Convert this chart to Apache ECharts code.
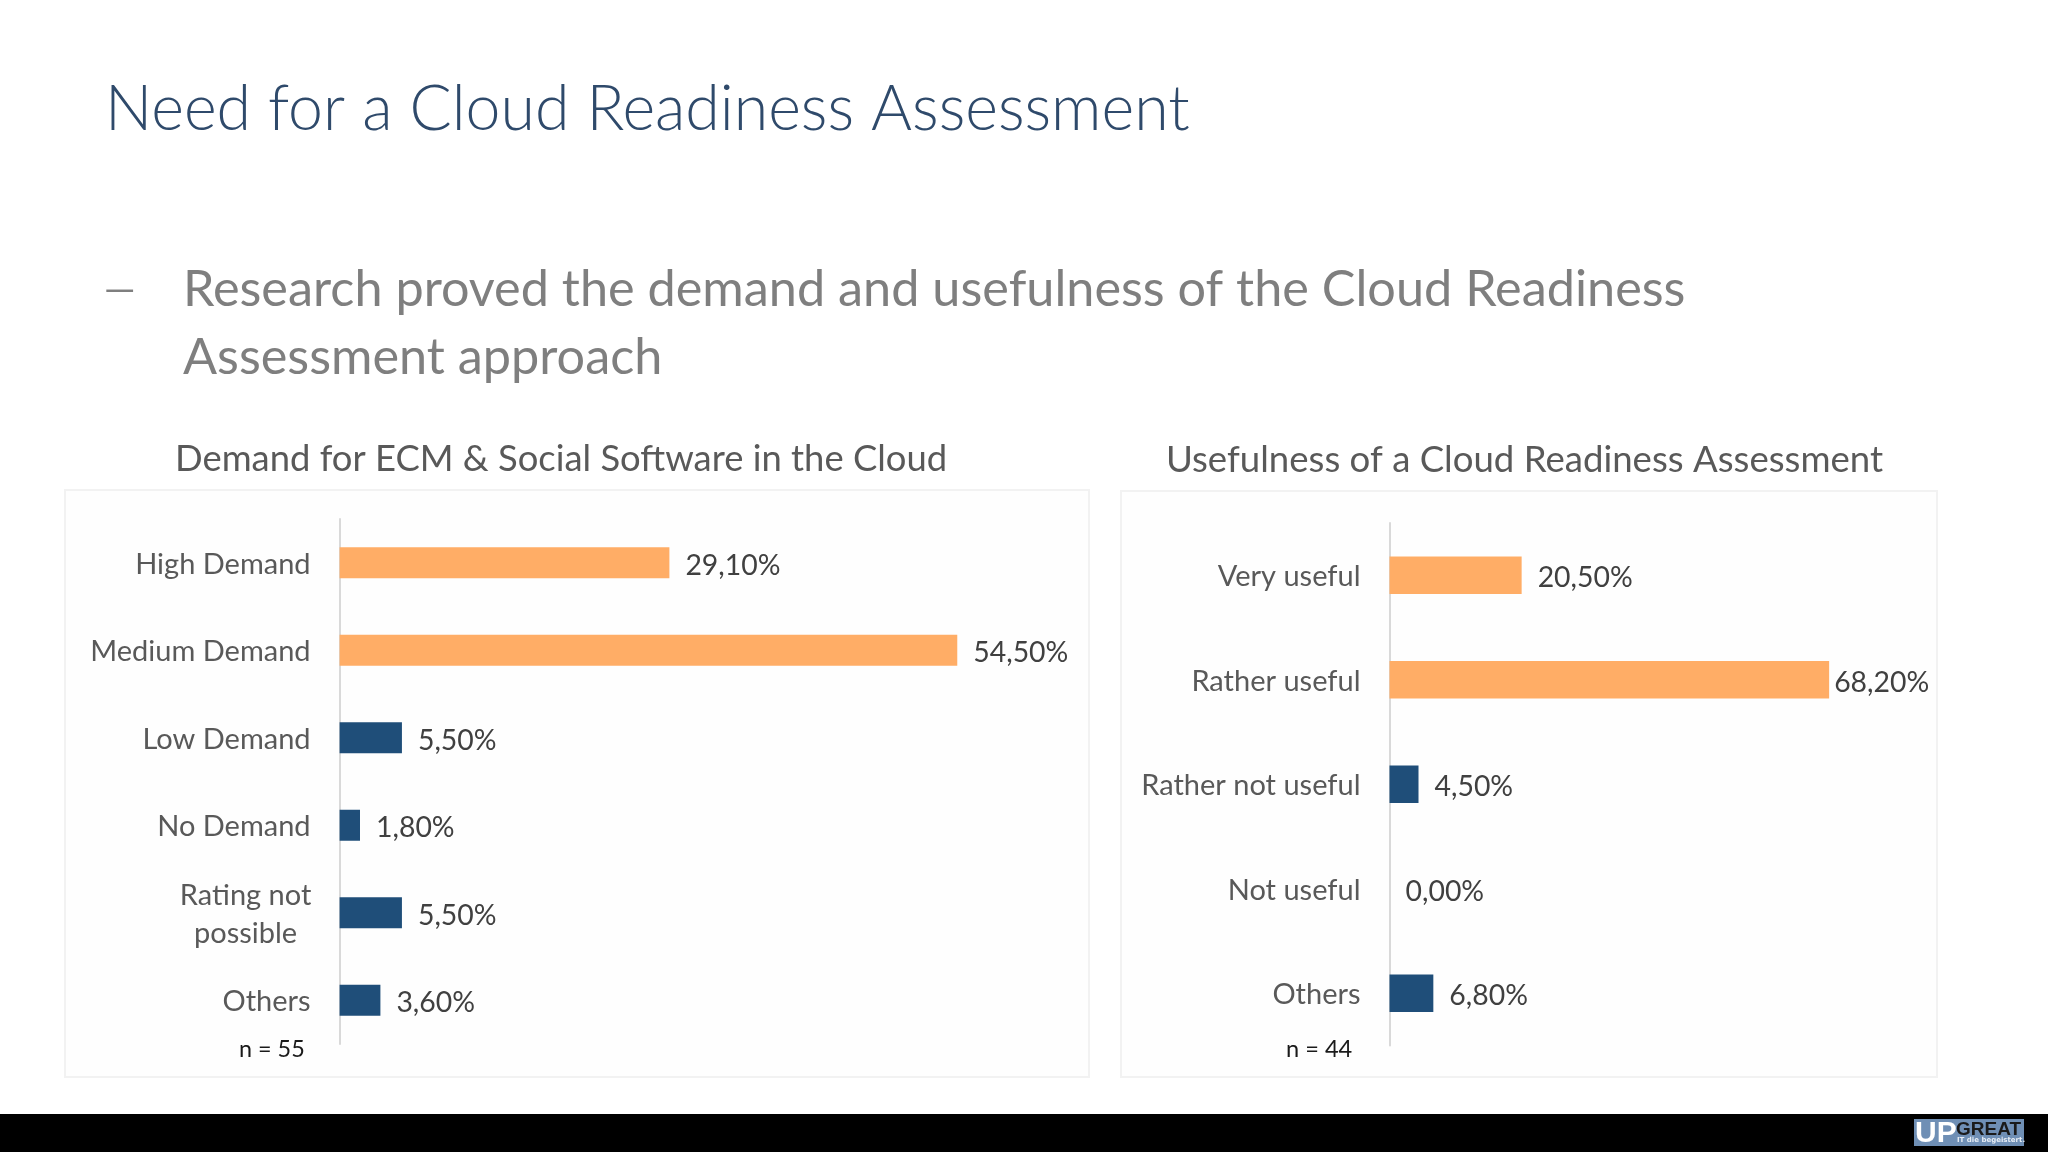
<!DOCTYPE html>
<html>
<head>
<meta charset="utf-8">
<title>Need for a Cloud Readiness Assessment</title>
<script src="https://cdn.jsdelivr.net/npm/echarts@6/dist/echarts.min.js"></script>
<style>
html, body { margin: 0; padding: 0; background: #fff; }
#main { width: 2048px; height: 1152px; }
</style>
</head>
<body>
<div id="main"></div>
<script>
var demandCategories = ['High Demand', 'Medium Demand', 'Low Demand', 'No Demand', 'Rating not\npossible', 'Others'];
var demandValues = [29.1, 54.5, 5.5, 1.8, 5.5, 3.6];
var usefulCategories = ['Very useful', 'Rather useful', 'Rather not useful', 'Not useful', 'Others'];
var usefulValues = [20.5, 68.2, 4.5, 0, 6.8];

var FONT = 'Lato, "Noto Sans", sans-serif';
var ORANGE = '#ffad66';
var BLUE = '#1f4e79';

function pct(v) {
    return v.toFixed(2).replace('.', ',') + '%';
}

function textTitle(text, left, top, size, color, weight) {
    return {
        text: text,
        left: left,
        top: top,
        padding: 0,
        textStyle: { fontFamily: FONT, fontSize: size, color: color, fontWeight: weight || 400, lineHeight: size * 1.3 }
    };
}

function barSeries(values, gridIndex, barWidth, tightIndex) {
    return {
        type: 'bar',
        xAxisIndex: gridIndex,
        yAxisIndex: gridIndex,
        barWidth: barWidth,
        silent: true,
        data: values.map(function (v, i) {
            var item = { value: v, itemStyle: { color: i < 2 ? ORANGE : BLUE } };
            if (i === tightIndex) item.label = { distance: 5 };
            return item;
        }),
        label: {
            show: true,
            position: 'right',
            distance: 16,
            offset: [0, 3],
            fontFamily: FONT,
            fontSize: 28.4,
            color: '#404040',
            formatter: function (p) { return pct(p.value); }
        }
    };
}

function valueAxis(gridIndex, max) {
    return { type: 'value', gridIndex: gridIndex, min: 0, max: max, show: false };
}

function categoryAxis(gridIndex, categories) {
    return {
        type: 'category',
        gridIndex: gridIndex,
        data: categories,
        inverse: true,
        axisTick: { show: false },
        axisLine: { show: true, lineStyle: { color: '#d9d9d9', width: 2 } },
        axisLabel: {
            margin: 29,
            fontFamily: FONT,
            fontSize: 29,
            color: '#595959',
            lineHeight: 38,
            padding: [3, 0, 0, 0],
            formatter: function (v) {
                if (v.indexOf('\n') < 0) return v;
                return v.split('\n').map(function (s) { return '{c|' + s + '}'; }).join('\n');
            },
            rich: { c: { width: 130, align: 'center', fontFamily: FONT, fontSize: 29, color: '#595959', lineHeight: 38 } }
        }
    };
}

var chart = echarts.init(document.getElementById('main'), null, { renderer: 'canvas' });
chart.setOption({
    backgroundColor: '#ffffff',
    animation: false,
    title: [
        textTitle('Need for a Cloud Readiness Assessment', 105, 69, 62.6, '#2f4a6b', 300),
        textTitle('–', 100, 245, 68, '#7f7f7f', 300),
        textTitle('Research proved the demand and usefulness of the Cloud Readiness', 183, 256.5, 50.4, '#7f7f7f'),
        textTitle('Assessment approach', 183, 325, 50.4, '#7f7f7f'),
        textTitle('Demand for ECM & Social Software in the Cloud', 175, 436, 36.4, '#595959'),
        textTitle('Usefulness of a Cloud Readiness Assessment', 1166, 436, 36.6, '#595959'),
        textTitle('n = 55', 239, 1034, 23.4, '#1a1a1a'),
        textTitle('n = 44', 1286, 1034, 23.6, '#1a1a1a')
    ],
    graphic: [
        { type: 'rect', z: -1, shape: { x: 65, y: 490, width: 1024, height: 587 }, style: { fill: '#fefefe', stroke: '#f2f2f2', lineWidth: 2 } },
        { type: 'rect', z: -1, shape: { x: 1121, y: 491, width: 816, height: 586 }, style: { fill: '#fefefe', stroke: '#f2f2f2', lineWidth: 2 } },
        { type: 'rect', z: -1, shape: { x: 0, y: 1114, width: 2048, height: 38 }, style: { fill: '#000000' } },
        { type: 'rect', z: 1, shape: { x: 1914, y: 1119, width: 110, height: 27 }, style: { fill: '#6f8fb5' } },
        { type: 'text', z: 2, style: { x: 1915, y: 1119, text: 'UP', fontFamily: '"Liberation Sans"', fontWeight: 700, fontSize: 30, fill: '#ffffff' } },
        { type: 'text', z: 2, style: { x: 1956, y: 1120, text: 'GREAT', fontFamily: '"Liberation Sans"', fontWeight: 700, fontSize: 19, fill: '#1a1a1a' } },
        { type: 'text', z: 2, style: { x: 1957, y: 1137, text: 'IT die begeistert.', fontFamily: '"DejaVu Sans"', fontWeight: 700, fontSize: 7, fill: '#e8eef5' } }
    ],
    grid: [
        { left: 339.6, top: 519, width: 680, height: 525 },
        { left: 1389.5, top: 523, width: 515.7, height: 522.6 }
    ],
    xAxis: [valueAxis(0, 60), valueAxis(1, 80)],
    yAxis: [categoryAxis(0, demandCategories), categoryAxis(1, usefulCategories)],
    series: [barSeries(demandValues, 0, 31), barSeries(usefulValues, 1, 37.5, 1)]
});
</script>
</body>
</html>
